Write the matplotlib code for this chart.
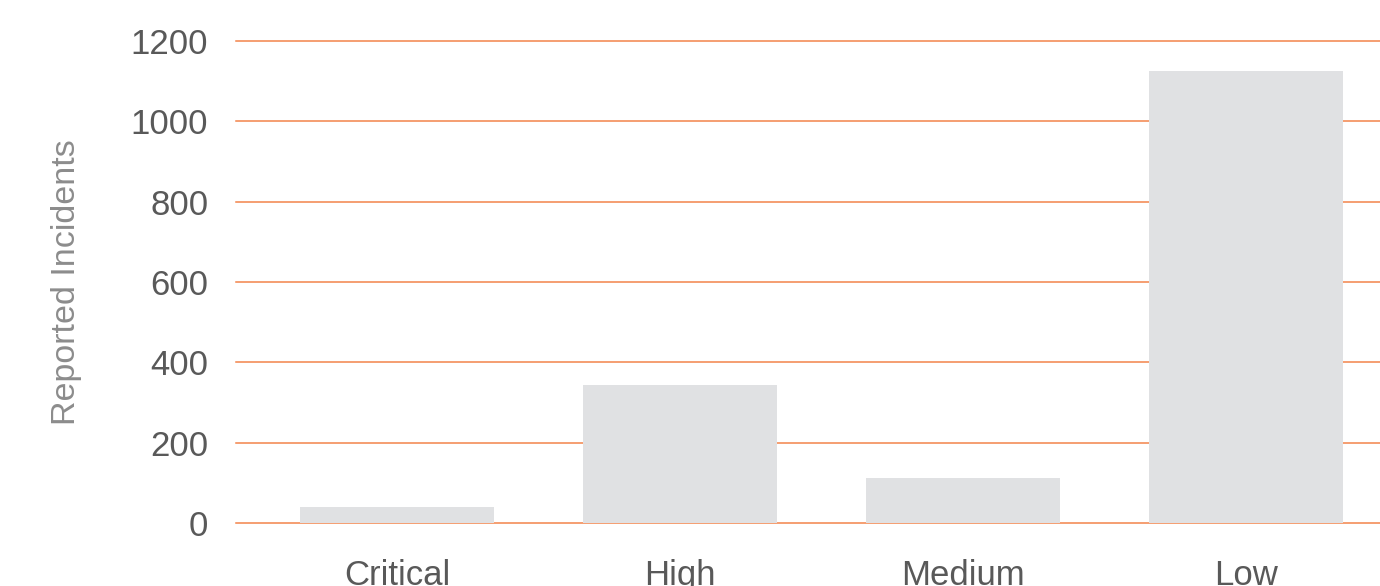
import matplotlib
matplotlib.use("Agg")
import matplotlib.pyplot as plt

categories = ["Critical", "High", "Medium", "Low"]
incidents = [40, 343, 112, 1125]
y_ticks = [0, 200, 400, 600, 800, 1000, 1200]

plt.rcParams["font.family"] = ["Liberation Sans", "DejaVu Sans"]

fig = plt.figure(figsize=(13.8, 5.86), dpi=100)
ax = fig.add_axes([0.171, 0.1075, 0.829, 0.8225])

xs = range(len(categories))
ax.bar(xs, incidents, width=0.686, color="#e0e1e3", zorder=2)

ax.set_ylim(0, 1200)
ax.set_xlim(-0.569, 3.473)
ax.set_yticks(y_ticks)
ax.set_xticks(list(xs))
ax.set_xticklabels(categories)
ax.yaxis.grid(True, color="#f2844a", linewidth=1.1, zorder=1)
for gl in ax.get_ygridlines():
    gl.set_clip_on(False)
ax.set_axisbelow(True)
for s in ax.spines.values():
    s.set_visible(False)

ax.tick_params(axis="y", length=0, pad=20, labelsize=25, labelcolor="#595959")
# the reference crops the category labels at the bottom edge
ax.tick_params(axis="x", length=0, pad=26, labelsize=25, labelcolor="#595959")
ax.set_ylabel("Reported Incidents", fontsize=24.5, color="#8c8c8c", labelpad=35)

fig.savefig("out.png", dpi=100)
